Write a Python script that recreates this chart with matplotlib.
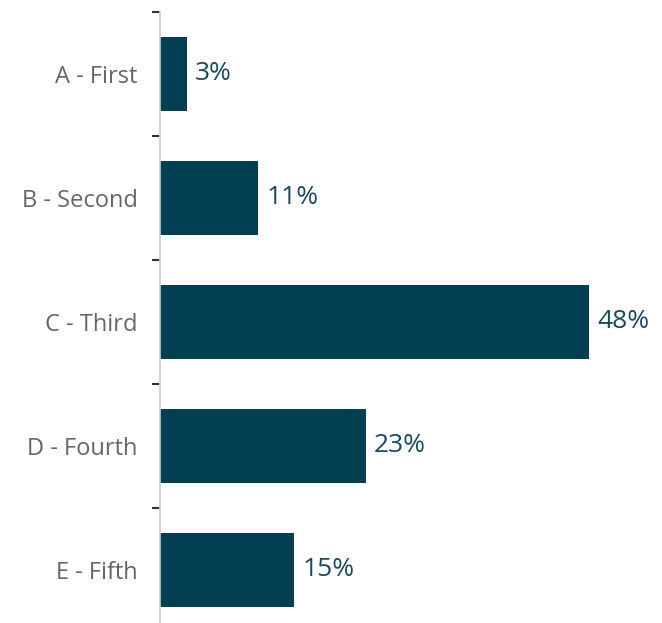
import matplotlib.pyplot as plt
import numpy as np

# datos del grafico
categorias = ['A - First', 'B - Second', 'C - Third', 'D - Fourth', 'E - Fifth']
valores = [3, 11, 48, 23, 15]
etiquetas = ['3%', '11%', '48%', '23%', '15%']

color_barra = '#023f52'

fig = plt.figure(figsize=(6.62, 6.23), dpi=100)
ax = fig.add_axes([160 / 662, -9 / 623, 447 / 662, 620 / 623])

pos = np.arange(len(categorias))
ax.barh(pos, valores, height=0.6, color=color_barra)
ax.set_ylim(len(categorias) - 0.5, -0.5)
ax.set_xlim(0, 50)

for p, v, t in zip(pos, valores, etiquetas):
    ax.text(v + 0.9, p, t, va='center', ha='left', fontsize=19,
            color='#164a5f', family='Open Sans')

# ticks en los limites, etiquetas en el centro
ax.set_yticks(np.arange(len(categorias)) - 0.5)
ax.set_yticklabels([])
ax.set_yticks(pos, minor=True)
ax.set_yticklabels(categorias, minor=True, fontsize=17, color='#666666',
                   family='Open Sans')
ax.tick_params(axis='y', which='major', length=6, width=1.5, color='#333333')
ax.tick_params(axis='y', which='minor', length=0, pad=16)

ax.set_xticks([])
for s in ['top', 'right', 'bottom']:
    ax.spines[s].set_visible(False)
ax.spines['left'].set_color('#cccccc')
ax.spines['left'].set_linewidth(1.2)

fig.savefig('out.png', dpi=100)
